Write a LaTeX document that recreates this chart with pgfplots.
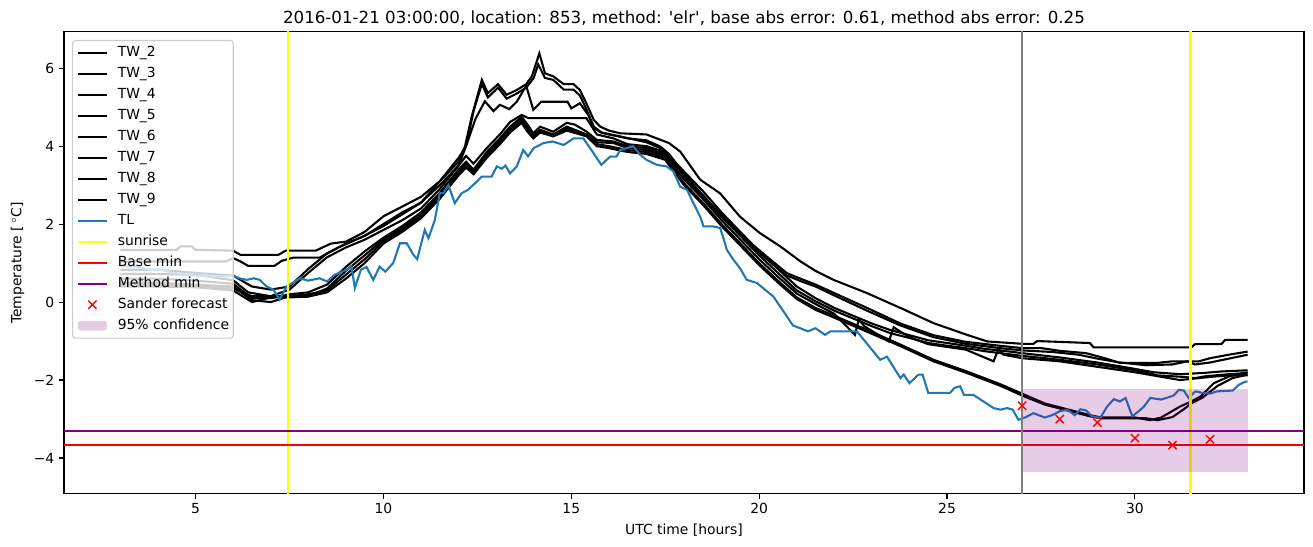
\documentclass[border=0pt]{standalone}
\usepackage{fontspec}
\setmainfont{DejaVu Sans}
\usepackage{pgfplots}
\pgfplotsset{compat=1.18}
\definecolor{tabblue}{RGB}{31,119,180}
\definecolor{mplyellow}{RGB}{255,255,0}
\definecolor{mplgray}{RGB}{128,128,128}
\definecolor{mplred}{RGB}{255,0,0}
\definecolor{mplpurple}{RGB}{128,0,128}
\definecolor{legframe}{RGB}{204,204,204}
\pgfplotsset{
    lineleg/.style={legend image code/.code={\draw[##1] (0pt,0pt) -- (21pt,0pt);}},
    markleg/.style={legend image code/.code={\draw[##1] plot coordinates {(10.5pt,0pt)};}},
    arealeg/.style={legend image code/.code={\fill[##1] (0pt,-3.5pt) rectangle (21pt,3.5pt);}},
}

\begin{document}
\begin{tikzpicture}
\begin{axis}[
    scale only axis, width=892.8pt, height=332.6pt,
    xmin=1.5, xmax=34.5, ymin=-4.92, ymax=6.93,
    axis line style={line width=0.8pt},
    tick align=outside, xtick pos=bottom, ytick pos=left,
    major tick length=3.5pt,
    major tick style={black, line width=0.8pt},
    xtick={5,10,15,20,25,30},
    ytick={-4,-2,0,2,4,6}, yticklabels={−4,−2,0,2,4,6},
    /pgf/number format/assume math mode=true,
    tick label style={font=\fontsize{10}{12}\selectfont},
    label style={font=\fontsize{10}{12}\selectfont},
    xlabel={UTC time [hours]},
    ylabel={Temperature [\,$^\circ$C]},
    every axis title/.style={at={(0.5,1)}, anchor=base, yshift=5.8pt, font=\fontsize{12}{14}\selectfont},
    title={2016-01-21 03:00:00, location: 853, method: \textquotesingle elr\textquotesingle, base abs error: 0.61, method abs error: 0.25},
    legend cell align=left,
    legend style={at={(0,1)}, anchor=north west, xshift=5.8pt, yshift=-5.8pt,
        draw=legframe, line width=0.8pt, rounded corners=2pt, fill=white, fill opacity=0.8, text opacity=1,
        font=\fontsize{10}{12}\selectfont,
        nodes={inner sep=0pt, text height=7.5pt, text depth=2.5pt},
        column sep=7pt, row sep=5.1pt, inner xsep=3pt, inner ysep=4pt},
    lineleg,
    every axis plot/.append style={line width=1.5pt},
]

% TW_2
\addplot[black] coordinates {(3,1.34) (4.5,1.34) (4.6,1.43) (4.9,1.43) (5.0,1.34) (6.0,1.32) (6.2,1.21) (7.2,1.21) (7.4,1.32) (8.2,1.32) (8.6,1.5) (9.0,1.55) (9.5,1.8) (10.0,2.2) (10.5,2.45) (11.0,2.7) (11.5,3.1) (12.0,3.6) (12.17,3.99) (12.35,4.76) (12.62,5.70) (12.78,5.36) (13.05,5.59) (13.28,5.32) (13.55,5.44) (13.8,5.59) (13.95,5.79) (14.15,6.38) (14.3,5.87) (14.52,5.79) (14.8,5.59) (15.06,5.59) (15.23,5.44) (15.4,5.1) (15.6,4.67) (15.77,4.5) (16.0,4.4) (16.3,4.33) (17.0,4.3) (17.6,4.08) (17.9,3.86) (18.43,3.14) (18.96,2.79) (19.49,2.19) (20.02,1.77) (20.56,1.43) (21.09,1.05) (21.5,0.8) (21.98,0.57) (22.87,0.23) (23.76,-0.15) (24.64,-0.54) (25.53,-0.84) (26.07,-1.01) (27.0,-1.07) (27.3,-1.07) (27.4,-1.0) (28.8,-1.05) (28.9,-1.16) (31.5,-1.16) (31.6,-1.08) (32.3,-1.08) (32.4,-0.97) (33,-0.97)};
\addlegendentry{TW\_2}
% TW_3
\addplot[black] coordinates {(3,1.04) (5.8,1.04) (6.0,1.13) (6.2,1.04) (6.4,0.93) (7.1,0.93) (7.3,1.06) (7.6,1.14) (8.3,1.14) (8.8,1.4) (9.5,1.7) (10.0,2.0) (10.5,2.3) (11.0,2.55) (11.5,3.0) (12.0,3.5) (12.2,4.0) (12.4,4.9) (12.62,5.6) (12.78,5.25) (13.05,5.5) (13.28,5.22) (13.55,5.35) (13.8,5.5) (14.0,5.75) (14.12,6.1) (14.3,5.75) (14.52,5.7) (14.8,5.45) (15.06,5.45) (15.23,5.3) (15.4,4.95) (15.6,4.5) (15.8,4.35) (16.0,4.3) (16.5,4.2) (17.0,4.15) (17.37,3.99) (17.6,3.8) (18.07,3.22) (18.6,2.62) (19.14,2.11) (19.67,1.6) (20.2,1.17) (20.74,0.74) (21.1,0.6) (21.5,0.45) (22.0,0.23) (22.87,-0.15) (23.76,-0.55) (24.64,-0.85) (25.5,-1.02) (26.4,-1.12) (27.0,-1.18) (27.5,-1.18) (28.0,-1.25) (28.7,-1.31) (29.2,-1.44) (29.6,-1.56) (30.6,-1.56) (31.0,-1.52) (31.7,-1.52) (32.0,-1.44) (32.5,-1.35) (33,-1.27)};
\addlegendentry{TW\_3}
% TW_4
\addplot[black] coordinates {(3,0.83) (4.0,0.83) (5.0,0.75) (6.0,0.68) (6.5,0.40) (7.0,0.32) (7.5,0.40) (8.0,0.85) (8.5,1.25) (9.0,1.50) (9.5,1.70) (10.0,1.95) (10.5,2.25) (11.0,2.55) (11.5,3.10) (12.0,3.70) (12.2,4.0) (12.45,4.7) (12.7,5.15) (12.93,4.9) (13.1,5.06) (13.35,4.95) (13.55,5.14) (13.8,5.55) (13.99,4.93) (14.2,5.14) (14.9,5.14) (15.0,4.97) (15.23,5.1) (15.45,4.8) (15.6,4.46) (15.8,4.35) (16.3,4.25) (17.0,4.1) (17.37,3.95) (17.6,3.75) (18.07,3.15) (18.6,2.55) (19.14,2.05) (19.67,1.55) (20.2,1.1) (20.74,0.68) (21.1,0.54) (21.5,0.4) (22.0,0.17) (22.87,-0.22) (23.76,-0.6) (24.64,-0.9) (25.5,-1.07) (26.4,-1.18) (27.0,-1.24) (27.8,-1.28) (28.5,-1.35) (29.0,-1.45) (29.6,-1.55) (30.3,-1.62) (31.0,-1.6) (31.4,-1.52) (31.6,-1.6) (32.0,-1.55) (32.5,-1.45) (33,-1.35)};
\addlegendentry{TW\_4}
% TW_5
\addplot[black] coordinates {(3,0.72) (4.0,0.72) (5.0,0.70) (6.0,0.56) (6.4,0.25) (7.0,0.15) (7.5,0.32) (8.0,0.75) (8.5,1.15) (9.0,1.40) (9.5,1.60) (10.0,1.85) (10.5,2.10) (11.0,2.40) (11.5,2.90) (12.0,3.50) (12.2,3.75) (12.4,3.55) (12.75,3.95) (13.1,4.3) (13.37,4.62) (13.68,4.8) (13.85,4.72) (15.4,4.72) (15.68,4.3) (16.12,4.2) (16.5,4.05) (17.0,4.0) (17.5,3.85) (18.0,3.35) (18.5,2.85) (19.0,2.30) (19.5,1.80) (20.0,1.30) (20.5,0.85) (21.0,0.40) (21.5,0.10) (22.0,-0.15) (22.5,-0.35) (23.0,-0.55) (23.5,-0.72) (24.0,-0.85) (24.5,-0.98) (25.0,-1.05) (25.5,-1.12) (26.0,-1.2) (26.5,-1.25) (27,-1.31) (28,-1.42) (29,-1.55) (29.8,-1.68) (30.5,-1.8) (31.2,-1.85) (31.8,-1.82) (32.3,-1.78) (33,-1.75)};
\addlegendentry{TW\_5}
% TW_6
\addplot[black] coordinates {(3,0.60) (4.0,0.60) (5.0,0.55) (6.0,0.47) (6.5,0.10) (7.0,0.10) (7.5,0.20) (8.0,0.25) (8.5,0.45) (9.0,0.90) (9.5,1.30) (10.0,1.65) (10.5,1.95) (11.0,2.30) (11.5,2.80) (12.0,3.40) (12.2,3.6) (12.4,3.4) (12.75,3.85) (13.1,4.2) (13.37,4.5) (13.68,4.75) (13.81,4.59) (13.99,4.33) (14.17,4.5) (14.52,4.37) (14.88,4.6) (15.1,4.55) (15.41,4.37) (15.68,4.16) (16.12,4.12) (16.5,4.0) (17.0,3.95) (17.5,3.80) (18.0,3.25) (18.5,2.75) (19.0,2.20) (19.5,1.70) (20.0,1.20) (20.5,0.75) (21.0,0.30) (21.5,0.02) (22.0,-0.22) (22.5,-0.42) (23.0,-0.62) (23.5,-0.80) (24.0,-0.92) (24.5,-1.05) (25.0,-1.12) (25.5,-1.18) (26.0,-1.26) (26.5,-1.32) (27,-1.38) (28,-1.48) (29,-1.6) (30,-1.75) (30.6,-1.88) (31.3,-1.92) (31.6,-1.95) (31.9,-1.9) (32.5,-1.85) (33,-1.82)};
\addlegendentry{TW\_6}
% TW_7
\addplot[black] coordinates {(3,0.50) (4.0,0.50) (5.0,0.45) (6.0,0.40) (6.5,0.05) (7.0,0.0) (7.5,0.15) (8.0,0.15) (8.5,0.35) (9.0,0.80) (9.5,1.20) (10.0,1.60) (10.5,1.90) (11.0,2.25) (11.5,2.75) (12.0,3.35) (12.2,3.55) (12.4,3.35) (12.75,3.8) (13.1,4.15) (13.37,4.45) (13.68,4.7) (13.81,4.5) (13.99,4.28) (14.17,4.42) (14.52,4.3) (14.88,4.5) (15.41,4.3) (15.68,4.1) (16.12,4.08) (16.5,3.95) (17.0,3.90) (17.5,3.75) (18.0,3.15) (18.5,2.65) (19.0,2.10) (19.5,1.60) (20.0,1.10) (20.5,0.65) (21.0,0.22) (21.5,-0.05) (22.0,-0.30) (22.55,-0.84) (22.65,-0.45) (22.8,-0.62) (23.45,-1.01) (23.58,-0.65) (24.0,-0.9) (24.5,-1.08) (25.0,-1.15) (25.5,-1.22) (26.24,-1.52) (26.37,-1.2) (26.5,-1.35) (27,-1.44) (28,-1.52) (29,-1.66) (30,-1.8) (30.6,-1.9) (31.2,-2.0) (31.5,-1.97) (32,-1.92) (32.5,-1.88) (33,-1.88)};
\addlegendentry{TW\_7}
% TW_8
\addplot[black] coordinates {(3,0.45) (4.0,0.45) (5.0,0.40) (6.0,0.35) (6.5,0.15) (7.0,0.15) (7.5,0.15) (8.0,0.20) (8.5,0.30) (9.0,0.70) (9.5,1.10) (10.0,1.55) (10.5,1.85) (11.0,2.20) (11.5,2.70) (12.0,3.30) (12.2,3.5) (12.4,3.3) (12.75,3.75) (13.1,4.1) (13.37,4.4) (13.68,4.65) (13.81,4.45) (13.99,4.25) (14.17,4.38) (14.52,4.28) (14.88,4.45) (15.41,4.28) (15.68,4.05) (16.0,4.0) (16.5,3.9) (17.0,3.85) (17.5,3.70) (18.0,3.05) (18.5,2.55) (19.0,2.00) (19.5,1.50) (20.0,1.00) (20.5,0.55) (21.0,0.12) (21.5,-0.15) (22.0,-0.35) (22.87,-0.71) (23.76,-1.09) (24.64,-1.48) (25.53,-1.78) (26.4,-2.1) (27.0,-2.35) (27.6,-2.6) (28.2,-2.75) (28.8,-2.9) (29.1,-2.96) (30.0,-2.96) (30.4,-3.03) (30.7,-2.96) (31.2,-2.68) (31.5,-2.55) (31.75,-2.42) (32.1,-2.08) (32.5,-1.91) (33,-1.8)};
\addlegendentry{TW\_8}
% TW_9
\addplot[black] coordinates {(3,0.40) (4.0,0.40) (5.0,0.38) (6.0,0.30) (6.5,0.0) (7.0,0.12) (7.5,0.12) (8.0,0.14) (8.5,0.25) (9.0,0.60) (9.5,1.00) (10.0,1.50) (10.5,1.80) (11.0,2.15) (11.5,2.65) (12.0,3.25) (12.2,3.45) (12.4,3.28) (12.75,3.7) (13.1,4.05) (13.37,4.35) (13.68,4.6) (13.81,4.4) (13.99,4.2) (14.17,4.35) (14.52,4.25) (14.88,4.4) (15.41,4.25) (15.68,4.0) (16.0,3.95) (16.5,3.85) (17.0,3.8) (17.5,3.65) (18.0,3.00) (18.5,2.50) (19.0,1.95) (19.5,1.45) (20.0,0.95) (20.5,0.50) (21.0,0.08) (21.5,-0.20) (22.0,-0.40) (22.87,-0.76) (23.76,-1.13) (24.64,-1.52) (25.53,-1.82) (26.4,-2.14) (27.0,-2.4) (27.6,-2.63) (28.2,-2.78) (28.8,-2.93) (29.1,-2.98) (30.3,-2.98) (30.6,-3.03) (31.0,-2.95) (31.3,-2.75) (31.5,-2.6) (31.8,-2.45) (32.2,-2.15) (32.6,-1.95) (33,-1.86)};
\addlegendentry{TW\_9}
% TL
\addplot[tabblue] coordinates {(3,0.93) (3.5,0.9) (3.8,0.83) (4.1,0.83) (4.4,0.75) (5.0,0.68) (5.5,0.65) (6.0,0.67) (6.2,0.6) (6.36,0.57) (6.55,0.61) (6.71,0.57) (6.89,0.4) (7.07,0.32) (7.24,0.06) (7.42,0.4) (7.6,0.5) (7.78,0.61) (8.0,0.55) (8.3,0.61) (8.5,0.53) (8.7,0.7) (9.02,0.83) (9.15,0.91) (9.24,0.36) (9.4,0.83) (9.55,0.9) (9.73,0.57) (9.9,0.91) (10.05,0.78) (10.26,1.0) (10.44,1.51) (10.62,1.51) (10.8,1.21) (10.9,1.1) (11.1,1.85) (11.2,1.64) (11.37,2.11) (11.5,2.79) (11.6,2.8) (11.73,3.0) (11.9,2.54) (12.08,2.79) (12.25,2.88) (12.44,3.05) (12.62,3.22) (12.88,3.22) (13.02,3.48) (13.15,3.42) (13.25,3.5) (13.37,3.3) (13.55,3.48) (13.72,3.9) (13.85,3.74) (14.0,3.95) (14.26,4.08) (14.5,4.12) (14.8,4.03) (15.06,4.2) (15.32,4.2) (15.5,3.95) (15.8,3.52) (16.03,3.73) (16.2,3.73) (16.3,3.9) (16.65,4.0) (16.83,3.78) (17.0,3.65) (17.28,3.52) (17.54,3.48) (17.72,3.35) (17.9,2.96) (18.08,2.88) (18.25,2.54) (18.43,2.19) (18.52,1.94) (18.78,1.94) (18.96,1.9) (19.05,1.64) (19.14,1.34) (19.32,1.08) (19.49,0.87) (19.67,0.57) (19.94,0.49) (20.38,0.14) (20.74,-0.37) (20.9,-0.6) (21.09,-0.67) (21.3,-0.75) (21.5,-0.67) (21.75,-0.84) (21.9,-0.75) (22.15,-0.75) (22.6,-0.75) (23.22,-1.48) (23.4,-1.4) (23.76,-1.95) (23.85,-1.86) (24.0,-2.08) (24.24,-1.86) (24.35,-1.86) (24.5,-2.33) (25.08,-2.33) (25.2,-2.2) (25.35,-2.16) (25.45,-2.38) (25.7,-2.38) (25.97,-2.55) (26.24,-2.72) (26.42,-2.76) (26.6,-2.72) (26.75,-2.76) (26.9,-3.02) (27.1,-2.95) (27.3,-2.85) (27.6,-2.96) (27.8,-2.9) (28.0,-2.8) (28.2,-2.76) (28.4,-2.9) (28.55,-2.75) (28.7,-2.78) (28.86,-2.93) (29.08,-2.97) (29.26,-2.68) (29.44,-2.49) (29.6,-2.55) (29.75,-2.46) (29.93,-2.93) (30.1,-2.8) (30.24,-2.68) (30.41,-2.46) (30.7,-2.5) (31.03,-2.4) (31.17,-2.25) (31.3,-2.27) (31.43,-2.46) (31.61,-2.29) (31.8,-2.33) (32.0,-2.35) (32.19,-2.29) (32.6,-2.27) (32.77,-2.12) (32.94,-2.04) (33,-2.04)};
\addlegendentry{TL}
% sunrise
\addplot[mplyellow] coordinates {(7.45,-10) (7.45,10)};
\addlegendentry{sunrise}
\addplot[mplyellow, forget plot] coordinates {(31.48,-10) (31.48,10)};
% base min / method min
\addplot[mplred] coordinates {(0,-3.66) (40,-3.66)};
\addlegendentry{Base min}
\addplot[mplpurple] coordinates {(0,-3.30) (40,-3.30)};
\addlegendentry{Method min}
% forecast
\addplot[only marks, mark=x, mark size=4.2pt, mplred, mark options={line width=1pt}, markleg]
    coordinates {(27,-2.66) (28,-3.0) (29,-3.09) (30,-3.49) (31,-3.67) (32,-3.52)};
\addlegendentry{Sander forecast}
% confidence
\addplot[draw=none, fill=mplpurple, fill opacity=0.2, arealeg]
    coordinates {(27,-4.37) (33,-4.37) (33,-2.22) (27,-2.22)};
\addlegendentry{95\% confidence}
\addplot[mplgray, forget plot] coordinates {(27.0,-10) (27.0,10)};
\end{axis}
\pgfresetboundingbox
\path[use as bounding box] ([shift={(-46.1pt,-38.2pt)}]current axis.south west) rectangle ([shift={(6.5pt,23pt)}]current axis.north east);
\end{tikzpicture}
\end{document}
